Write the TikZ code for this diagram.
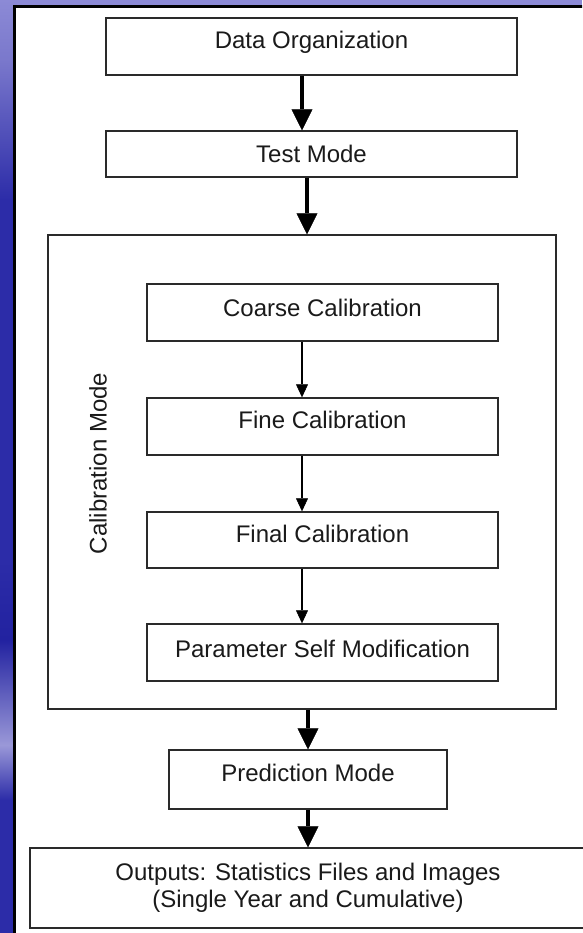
\documentclass[tikz,border=0pt]{standalone}
\usepackage{fontspec}
\setmainfont{Liberation Sans}
\usetikzlibrary{arrows.meta}
\definecolor{lav}{HTML}{8C8AD6}
\definecolor{lavdark}{HTML}{7A78CC}
\definecolor{deepblue}{HTML}{2C2CA8}
\definecolor{darkblue}{HTML}{2222A0}
\definecolor{lightband}{HTML}{9A98D8}
\definecolor{boxline}{HTML}{2A2A2A}
\definecolor{textcol}{HTML}{1A1A1A}
\begin{document}
\begin{tikzpicture}[x=1pt,y=-1pt,
  box/.style={draw=boxline, line width=1.4pt, fill=white, rectangle, inner sep=0pt,
    font=\fontsize{24}{27}\selectfont, text=textcol},
  lbl/.style={inner sep=0pt, font=\fontsize{24}{27}\selectfont, text=textcol},
  bigarrow/.style={draw=black, line width=3.5pt,
    -{Triangle[width=21pt,length=21pt,line width=0.5pt]}},
  smallarrow/.style={draw=black, line width=1.3pt,
    -{Triangle[width=12pt,length=13pt,line width=0.5pt]}}]
\useasboundingbox (0,0) rectangle (582,933);
\begin{scope}
\clip (0,0) rectangle (582,933);
% background
\fill[lav] (0,0) rectangle (582,933);
\shade[top color=lav, bottom color=lavdark] (0,0) rectangle (16,60);
\shade[top color=lavdark, bottom color=deepblue] (0,60) rectangle (16,200);
\shade[top color=deepblue, bottom color=deepblue] (0,200) rectangle (16,560);
\shade[top color=deepblue, bottom color=darkblue] (0,560) rectangle (16,640);
\shade[top color=darkblue, bottom color=lightband] (0,640) rectangle (16,745);
\shade[top color=lightband, bottom color=deepblue] (0,745) rectangle (16,800);
\fill[deepblue] (0,800) rectangle (16,933);
% white panel
\draw[black, line width=3pt, fill=white] (14.8,6.8) rectangle (620,960);
\end{scope}

% nodes
\node[box, minimum width=411pt, minimum height=57pt, text height=31pt, text depth=26pt]
  (dataorg) at (311.5,46.5) {Data Organization};
\node[box, minimum width=411pt, minimum height=46pt, text height=32pt, text depth=14pt]
  (test) at (311.5,154) {Test Mode};
\node[box, minimum width=508pt, minimum height=474pt] (calib) at (302,472) {};
\node[lbl, rotate=90, anchor=base] (calibtext) at (106.5,463.5) {Calibration Mode};
\node[box, minimum width=351pt, minimum height=57pt, text height=32pt, text depth=25pt]
  (coarse) at (322.5,312.5) {Coarse Calibration};
\node[box, minimum width=351pt, minimum height=57pt, text height=30pt, text depth=27pt]
  (fine) at (322.5,426.5) {Fine Calibration};
\node[box, minimum width=351pt, minimum height=56pt, text height=30pt, text depth=26pt]
  (final) at (322.5,540) {Final Calibration};
\node[box, minimum width=351pt, minimum height=57pt, text height=33pt, text depth=24pt]
  (param) at (322.5,652.5) {Parameter Self Modification};
\node[box, minimum width=278pt, minimum height=59pt, text height=31pt, text depth=28pt]
  (pred) at (308,779.5) {Prediction Mode};
\node[box, minimum width=556pt, minimum height=80pt, text height=59pt, text depth=21pt]
  (outputs) at (308,888) {\begin{tabular}[b]{@{}c@{}}Outputs: Statistics Files and Images\\(Single Year and Cumulative)\end{tabular}};

% connectors
\draw[bigarrow] ([xshift=-9.5pt]dataorg.south) -- ([xshift=-9.5pt]test.north);
\draw[bigarrow] ([xshift=-4.5pt]test.south) -- ([xshift=5pt]calib.north);
\draw[smallarrow] ([xshift=-20.5pt]coarse.south) -- ([xshift=-20.5pt]fine.north);
\draw[smallarrow] ([xshift=-20.5pt]fine.south) -- ([xshift=-20.5pt]final.north);
\draw[smallarrow] ([xshift=-20.5pt]final.south) -- ([xshift=-20.5pt]param.north);
\draw[bigarrow] ([xshift=6pt]calib.south) -- (pred.north);
\draw[bigarrow] (pred.south) -- (outputs.north);
\end{tikzpicture}
\end{document}
